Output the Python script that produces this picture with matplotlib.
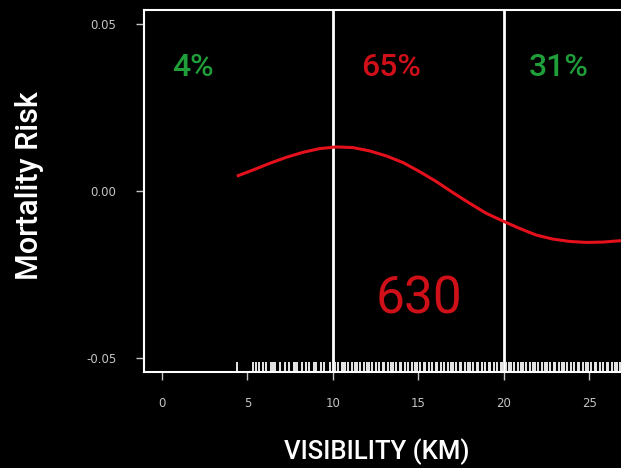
import matplotlib
matplotlib.use('Agg')
import matplotlib.pyplot as plt

# smooth fit
visibility = [4.46, 5.33, 6.31, 7.28, 8.26, 9.23, 10.20, 11.17, 12.15, 13.12,
              14.10, 15.07, 16.05, 17.02, 18.00, 18.97, 19.94, 20.91, 21.89,
              22.86, 23.83, 24.81, 25.78, 26.75]
risk = [0.0046, 0.0063, 0.0083, 0.0101, 0.0116, 0.0127, 0.0132, 0.0130, 0.0120,
        0.0105, 0.0085, 0.0058, 0.0028, -0.0005, -0.0037, -0.0067, -0.0090,
        -0.0112, -0.0132, -0.0144, -0.0151, -0.0154, -0.0153, -0.0149]

# observed visibilities (rug)
rug = [4.4, 5.3, 5.5, 5.7, 5.9, 6.1, 6.4, 6.5, 6.6, 6.9, 7.2, 7.4, 7.7, 7.8, 7.9,
       8.2, 8.4, 8.6, 8.9, 9.0, 9.3, 9.5, 9.8, 10.1, 10.3, 10.5, 10.6, 10.7, 10.9,
       11.1, 11.3, 11.4, 11.6, 11.8, 12.0, 12.1, 12.3, 12.5, 12.7, 12.9, 13.0,
       13.2, 13.4, 13.5, 13.7, 13.9, 14.0, 14.2, 14.4, 14.6, 14.8, 14.9, 15.1,
       15.3, 15.4, 15.6, 15.8, 16.0, 16.1, 16.3, 16.5, 16.7, 16.9, 17.0, 17.2,
       17.4, 17.5, 17.7, 17.9, 18.0, 18.2, 18.4, 18.5, 18.7, 18.9, 19.1, 19.2,
       19.4, 19.6, 19.8, 19.9, 20.1, 20.3, 20.4, 20.6, 20.8, 21.0, 21.1, 21.3,
       21.5, 21.7, 21.8, 22.0, 22.2, 22.4, 22.5, 22.7, 22.9, 23.0, 23.2, 23.4,
       23.5, 23.7, 23.9, 24.1, 24.3, 24.4, 24.6, 24.8, 24.9, 25.1, 25.3, 25.4,
       25.6, 25.8, 26.0, 26.1, 26.3, 26.5, 26.6, 26.8]

cutoffs = [10, 20]
shares = ['4%', '65%', '31%']
share_x = [1.8, 13.4, 23.2]
share_colors = ['#1f9e3a', '#d01018', '#1f9e3a']
total = '630'

plt.rcParams['font.family'] = ['Roboto', 'DejaVu Sans']

fig = plt.figure(figsize=(6.21, 4.68), dpi=100, facecolor='black')
ax = fig.add_axes([144 / 621, 96 / 468, 496.8 / 621, 362 / 468])
ax.set_facecolor('black')

ymin, ymax = -0.0542, 0.0542
ax.set_xlim(-1.05, 28.0)
ax.set_ylim(ymin, ymax)

for c in cutoffs:
    ax.axvline(c, color='white', lw=2)

ax.vlines(rug, ymin, ymin + 0.0031, color='#e8e8e8', lw=1.4)
ax.plot(visibility, risk, color='#e4101c', lw=2.2)

for s, x, col in zip(shares, share_x, share_colors):
    ax.text(x, 0.0370, s, color=col, fontsize=23, ha='center', va='center', weight='medium')
ax.text(15.0, -0.0325, total, color='#d01018', fontsize=37, ha='center', va='center')

for side in ['right']:
    ax.spines[side].set_visible(False)
for side in ['left', 'top', 'bottom']:
    ax.spines[side].set_color('white')
    ax.spines[side].set_linewidth(1.5)

ax.set_xticks([0, 5, 10, 15, 20, 25])
ax.set_yticks([-0.05, 0.0, 0.05])
ax.set_yticklabels(['-0.05', '0.00', '0.05'])
ax.tick_params(colors='#c4c4c4', length=6, width=1)
ax.tick_params(axis='x', pad=12)
ax.tick_params(axis='y', pad=14)
for lab in ax.get_xticklabels() + ax.get_yticklabels():
    lab.set_family('DejaVu Sans')
    lab.set_fontsize(8.5)

fig.text(30 / 621, 1 - 186 / 468, 'Mortality Risk', color='white', fontsize=22,
         rotation=90, ha='center', va='center', weight='medium')
fig.text(377 / 621, 1 - 452 / 468, 'VISIBILITY (KM)', color='white', fontsize=18.5,
         ha='center', va='center', weight='medium')

fig.savefig('out.png', dpi=100, facecolor='black')
